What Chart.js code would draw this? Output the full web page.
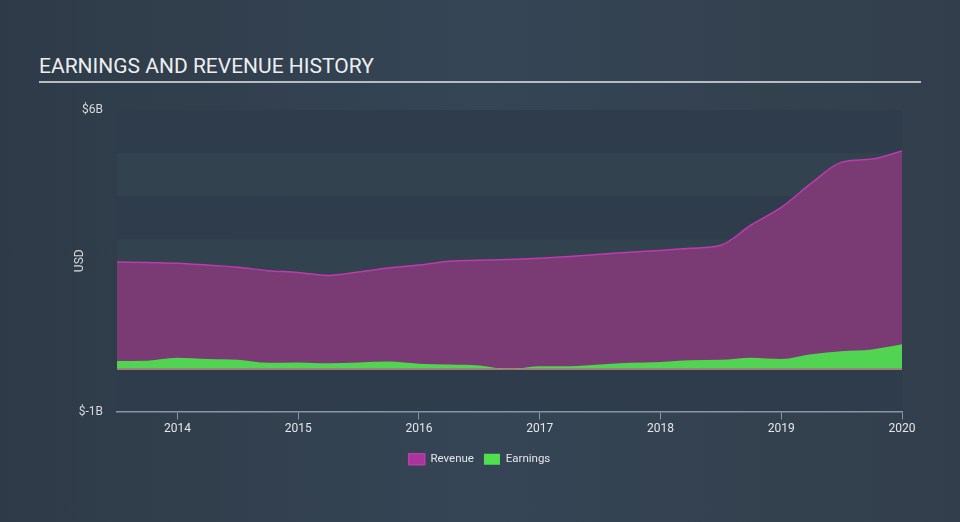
<!DOCTYPE html>
<html>
<head>
<meta charset="utf-8">
<script src="https://cdn.jsdelivr.net/npm/chart.js@4"></script>
<style>
    html, body {
        margin: 0;
        padding: 0;
        width: 960px;
        height: 522px;
        overflow: hidden;
        background: linear-gradient(90deg, #2e3a47 0%, #354555 50%, #323e4b 100%);
        font-family: Roboto, "Noto Sans", sans-serif;
    }
    #title {
        position: absolute;
        left: 39px;
        top: 54px;
        color: #eceef0;
        font-size: 21px;
    }
    #rule {
        position: absolute;
        left: 39px;
        top: 81px;
        width: 882px;
        height: 2px;
        background: #b7bcc3;
    }
    #wrap {
        position: absolute;
        left: 0;
        top: 0;
        width: 960px;
        height: 522px;
    }
</style>
</head>
<body>
<div id="title">EARNINGS AND REVENUE HISTORY</div>
<div id="rule"></div>
<div id="wrap"><canvas id="chart" width="960" height="522"></canvas></div>
<script>
// Time in decimal years (quarterly points)
const periods = [2013.5, 2013.75, 2014, 2014.25, 2014.5, 2014.75, 2015, 2015.25, 2015.5, 2015.75,
                 2016, 2016.25, 2016.5, 2016.75, 2017, 2017.25, 2017.5, 2017.75, 2018, 2018.25,
                 2018.5, 2018.75, 2019, 2019.25, 2019.5, 2019.75, 2020];

// Values in billions USD
const revenue = [2.47, 2.46, 2.44, 2.40, 2.35, 2.27, 2.23, 2.16, 2.24, 2.33,
                 2.40, 2.49, 2.51, 2.53, 2.56, 2.60, 2.65, 2.70, 2.74, 2.79,
                 2.86, 3.33, 3.74, 4.30, 4.79, 4.86, 5.05];
const earnings = [0.17, 0.18, 0.25, 0.22, 0.20, 0.13, 0.14, 0.12, 0.14, 0.16,
                  0.11, 0.09, 0.07, -0.02, 0.05, 0.05, 0.09, 0.13, 0.15, 0.19,
                  0.20, 0.25, 0.22, 0.33, 0.40, 0.44, 0.56];

const yearTicks = [2014, 2015, 2016, 2017, 2018, 2019, 2020];
const yLabels = { '6': '$6B', '-1': '$-1B' };

// Alternating horizontal bands behind the plot
const bandPlugin = {
    id: 'bands',
    beforeDraw(chart) {
        const { ctx, chartArea, scales } = chart;
        const y = scales.y;
        ctx.save();
        for (let v = -1; v < 6; v++) {
            const top = y.getPixelForValue(v + 1);
            const bottom = y.getPixelForValue(v);
            ctx.fillStyle = ((v + 1) % 2 === 0) ? '#2e3c4b' : '#33424f';
            ctx.fillRect(chartArea.left, top, chartArea.right - chartArea.left, bottom - top);
        }
        ctx.restore();
    }
};

new Chart(document.getElementById('chart'), {
    type: 'line',
    data: {
        datasets: [
            {
                label: 'Revenue',
                data: periods.map((p, i) => ({ x: p, y: revenue[i] })),
                borderColor: '#bb3cad',
                backgroundColor: '#a8359b',
                borderWidth: 1.5,
                pointRadius: 0,
                cubicInterpolationMode: 'monotone',
                fill: { target: 'origin', above: '#7a3a74', below: '#7a3a74' },
                order: 1
            },
            {
                label: 'Earnings',
                data: periods.map((p, i) => ({ x: p, y: earnings[i] })),
                borderColor: 'rgba(0,0,0,0)',
                backgroundColor: '#4fe04f',
                borderWidth: 0,
                pointRadius: 0,
                cubicInterpolationMode: 'monotone',
                fill: { target: 'origin', above: '#51d452', below: '#e2443a' },
                order: 0
            }
        ]
    },
    options: {
        responsive: false,
        animation: false,
        layout: {
            padding: { left: 57, right: 58, top: 110, bottom: 47 }
        },
        plugins: {
            title: { display: false },
            tooltip: { enabled: false },
            legend: {
                position: 'bottom',
                labels: {
                    boxWidth: 16,
                    boxHeight: 11,
                    padding: 10,
                    color: '#e4e6e9',
                    font: { family: 'Roboto', size: 11.5 },
                    sort: (a, b) => a.datasetIndex - b.datasetIndex
                }
            }
        },
        scales: {
            x: {
                type: 'linear',
                min: 2013.5,
                max: 2020,
                afterBuildTicks: scale => {
                    scale.ticks = yearTicks.map(v => ({ value: v }));
                },
                afterFit: scale => { scale.height = 32; },
                ticks: {
                    color: '#e4e6e9',
                    font: { family: 'Roboto', size: 12 },
                    padding: 2,
                    maxRotation: 0,
                    callback: v => String(v)
                },
                grid: {
                    drawOnChartArea: false,
                    drawTicks: true,
                    tickLength: 8,
                    color: '#8796a6'
                },
                border: { display: true, color: '#8796a6', width: 1.5 }
            },
            y: {
                min: -1,
                max: 6,
                afterFit: scale => { scale.width = 60; },
                ticks: {
                    stepSize: 1,
                    color: '#d6d9dd',
                    font: { family: 'Roboto', size: 12 },
                    padding: 14,
                    callback: v => yLabels[String(v)] || ''
                },
                grid: {
                    drawTicks: false,
                    color: ctx => ctx.tick && ctx.tick.value === 0 ? '#d9d3b0' : 'rgba(0,0,0,0)',
                    lineWidth: 1.5
                },
                border: { display: false },
                title: {
                    display: true,
                    text: 'USD',
                    color: '#d6d9dd',
                    font: { family: 'Roboto', size: 12 },
                    padding: { top: 16, bottom: 0 }
                }
            }
        }
    },
    plugins: [bandPlugin]
});
</script>
</body>
</html>
